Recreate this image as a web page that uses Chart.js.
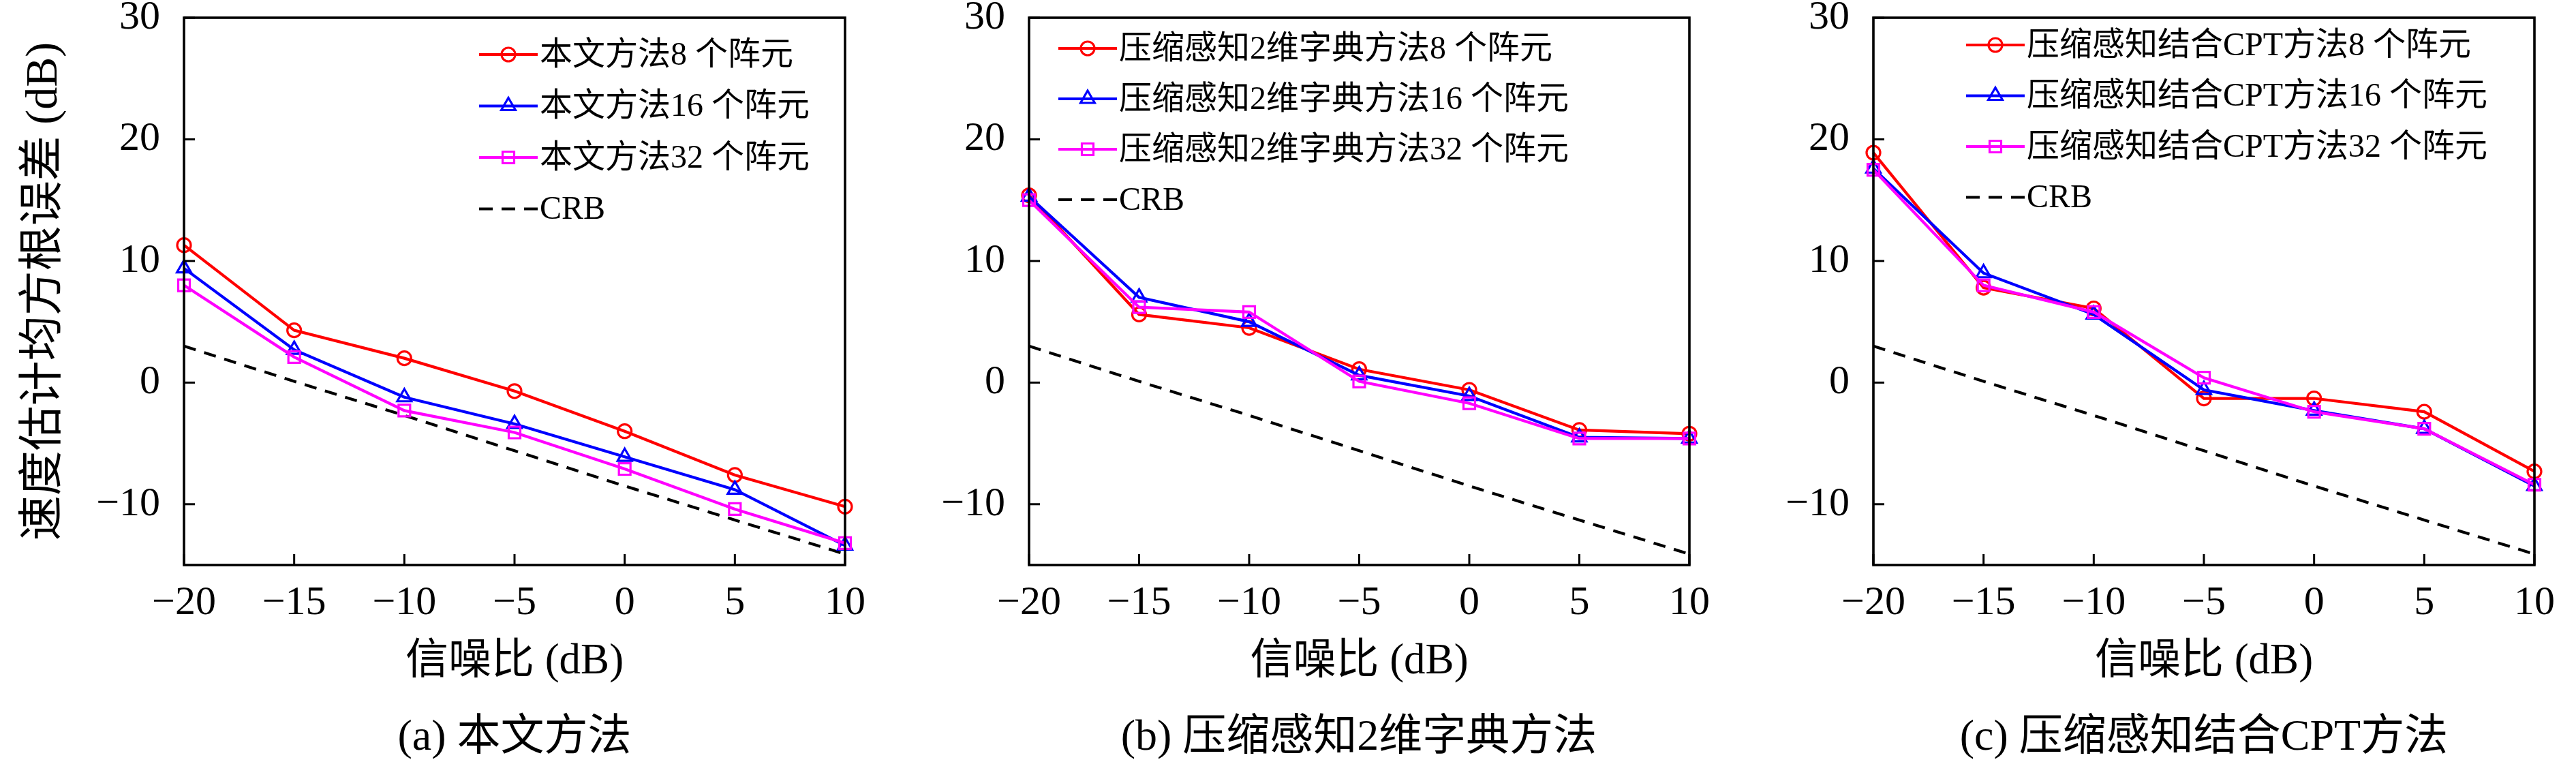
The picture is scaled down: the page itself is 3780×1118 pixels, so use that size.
<!DOCTYPE html>
<html><head><meta charset="utf-8">
<script src="https://cdn.jsdelivr.net/npm/chart.js@4.4.0/dist/chart.umd.min.js"></script>
<style>
html,body{margin:0;padding:0;background:#fff;}
#wrap{position:relative;width:3780px;height:1118px;overflow:hidden;background:#fff;}
.pc{position:absolute;top:0;height:1009px;}
.cap{position:absolute;top:1039px;width:1200px;height:80px;line-height:80px;font-size:64px;font-family:"Liberation Serif","Noto Sans CJK SC",serif;text-align:center;color:#000;white-space:nowrap;}
</style></head><body>
<div id="wrap">
  <div class="pc" style="left:0px;width:1270px"><canvas id="c0" width="1270" height="1009"></canvas></div>
  <div class="pc" style="left:1290px;width:1220px"><canvas id="c1" width="1220" height="1009"></canvas></div>
  <div class="pc" style="left:2530px;width:1250px"><canvas id="c2" width="1250" height="1009"></canvas></div>
  <div class="cap" style="left:155px">(a) 本文方法</div>
  <div class="cap" style="left:1394px">(b) 压缩感知2维字典方法</div>
  <div class="cap" style="left:2634px">(c) 压缩感知结合CPT方法</div>
</div>
<script>
// ---- data ----
const snr = [-20, -15, -10, -5, 0, 5, 10];
const xTicks = [-20, -15, -10, -5, 0, 5, 10];
const yTicks = [-10, 0, 10, 20, 30];
const crb = [3.0, 0.1, -2.7, -5.6, -8.5, -11.3, -14.1];
const a8  = [11.3, 4.3, 2.0, -0.7, -4.0, -7.6, -10.2];
const a16 = [9.4, 2.7, -1.2, -3.4, -6.1, -8.8, -13.4];
const a32 = [8.0, 2.1, -2.3, -4.1, -7.1, -10.4, -13.2];
const b8  = [15.4, 5.6, 4.5, 1.1, -0.6, -3.9, -4.2];
const b16 = [15.3, 7.0, 5.0, 0.6, -1.1, -4.5, -4.6];
const b32 = [15.0, 6.2, 5.8, 0.1, -1.7, -4.6, -4.6];
const c8  = [18.9, 7.8, 6.1, -1.3, -1.3, -2.4, -7.3];
const c16 = [17.6, 9.0, 5.6, -0.6, -2.3, -3.8, -8.5];
const c32 = [17.5, 8.0, 5.8, 0.4, -2.4, -3.8, -8.4];
const namesA = ['本文方法8 个阵元', '本文方法16 个阵元', '本文方法32 个阵元', 'CRB'];
const namesB = ['压缩感知2维字典方法8 个阵元', '压缩感知2维字典方法16 个阵元', '压缩感知2维字典方法32 个阵元', 'CRB'];
const namesC = ['压缩感知结合CPT方法8 个阵元', '压缩感知结合CPT方法16 个阵元', '压缩感知结合CPT方法32 个阵元', 'CRB'];
const xTitle = '信噪比 (dB)';
const yTitle = '速度估计均方根误差 (dB)';

const FAM = '"Liberation Serif", "Noto Sans CJK SC", serif';
const toPts = arr => arr.map((v, i) => ({x: snr[i], y: v}));
const fmt = v => (v < 0 ? '\u2212' + Math.abs(v) : String(v));

function mkDatasets(s8, s16, s32, names) {
  return [
    {label: names[0], data: toPts(s8), borderColor: '#ff0000', backgroundColor: 'rgba(0,0,0,0)',
     pointStyle: 'circle', pointRadius: 10, pointBorderWidth: 3.2, borderWidth: 4.2, order: 2, clip: false},
    {label: names[1], data: toPts(s16), borderColor: '#0000ff', backgroundColor: 'rgba(0,0,0,0)',
     pointStyle: 'triangle', pointRadius: 12, pointBorderWidth: 3.2, borderWidth: 4.2, order: 1, clip: false},
    {label: names[2], data: toPts(s32), borderColor: '#ff00ff', backgroundColor: 'rgba(0,0,0,0)',
     pointStyle: 'rect', pointRadius: 12, pointBorderWidth: 3.2, borderWidth: 4.2, order: 0, clip: false},
    {label: names[3], data: toPts(crb), borderColor: '#000000', backgroundColor: 'rgba(0,0,0,0)',
     pointRadius: 0, borderWidth: 4.2, borderDash: [18, 13], order: 3, clip: false}
  ];
}

function drawMarker(ctx, style, r, x, y) {
  ctx.beginPath();
  if (style === 'circle') {
    ctx.arc(x, y, r, 0, Math.PI * 2);
  } else if (style === 'triangle') {
    ctx.moveTo(x, y - r);
    ctx.lineTo(x + r * Math.sin(Math.PI * 2 / 3), y - r * Math.cos(Math.PI * 2 / 3));
    ctx.lineTo(x + r * Math.sin(Math.PI * 4 / 3), y - r * Math.cos(Math.PI * 4 / 3));
    ctx.closePath();
  } else if (style === 'rect') {
    const s = r * Math.SQRT1_2;
    ctx.rect(x - s, y - s, 2 * s, 2 * s);
  }
  ctx.stroke();
}

const framePlugin = {
  id: 'frameTicks',
  afterDraw(chart) {
    const {ctx, chartArea: ca, scales} = chart;
    ctx.save();
    ctx.strokeStyle = '#000';
    ctx.lineWidth = 3;
    scales.x.ticks.forEach(t => {
      const px = scales.x.getPixelForValue(t.value);
      ctx.beginPath(); ctx.moveTo(px, ca.bottom); ctx.lineTo(px, ca.bottom - 16); ctx.stroke();
    });
    scales.y.ticks.forEach(t => {
      const py = scales.y.getPixelForValue(t.value);
      ctx.beginPath(); ctx.moveTo(ca.left, py); ctx.lineTo(ca.left + 16, py); ctx.stroke();
    });
    ctx.lineWidth = 3.6;
    ctx.strokeRect(ca.left, ca.top, ca.right - ca.left, ca.bottom - ca.top);
    // legend
    const o = chart.options.plugins.inLegend;
    ctx.font = '48px ' + FAM;
    ctx.textBaseline = 'middle';
    ctx.textAlign = 'left';
    chart.data.datasets.forEach((ds, i) => {
      const x0 = ca.left + o.x, y = ca.top + o.y0 + i * o.dy, x1 = x0 + o.len;
      ctx.strokeStyle = ds.borderColor;
      ctx.lineWidth = ds.borderWidth;
      ctx.setLineDash(ds.borderDash ? [20, 13] : []);
      ctx.beginPath(); ctx.moveTo(x0, y); ctx.lineTo(x1, y); ctx.stroke();
      ctx.setLineDash([]);
      if (ds.pointRadius > 0) {
        ctx.lineWidth = ds.pointBorderWidth;
        ctx.fillStyle = '#fff';
        drawMarker(ctx, ds.pointStyle, ds.pointRadius, (x0 + x1) / 2, y);
      }
      ctx.fillStyle = '#000';
      ctx.fillText(ds.label, x1 + 3, y + 2);
    });
    ctx.restore();
  }
};

function mkChart(id, datasets, cfg) {
  return new Chart(document.getElementById(id), {
    type: 'line',
    data: {datasets},
    plugins: [framePlugin],
    options: {
      responsive: false,
      animation: false,
      events: [],
      layout: {padding: {left: cfg.padL, right: cfg.padR, top: 26, bottom: 0}},
      plugins: {legend: {display: false}, tooltip: {enabled: false}, inLegend: cfg.legend},
      scales: {
        x: {
          type: 'linear', min: -20, max: 10,
          afterBuildTicks: s => { s.ticks = xTicks.map(v => ({value: v})); },
          afterFit: s => { s.height = 180; s.paddingLeft = 0; s.paddingRight = 0; },
          grid: {display: false, drawTicks: false},
          border: {display: false},
          ticks: {padding: 20, color: '#000', font: {family: FAM, size: 60}, callback: v => fmt(v), maxRotation: 0, autoSkip: false},
          title: {display: true, text: xTitle, color: '#000', font: {family: FAM, size: 63}, padding: 0}
        },
        y: {
          type: 'linear', min: -15, max: 30,
          afterBuildTicks: s => { s.ticks = yTicks.map(v => ({value: v})); },
          afterFit: s => { s.width = cfg.yW; s.paddingTop = 0; s.paddingBottom = 0; },
          grid: {display: false, drawTicks: false},
          border: {display: false},
          ticks: {padding: 35, color: '#000', font: {family: FAM, size: 60}, callback: v => fmt(v), autoSkip: false},
          title: {display: cfg.yTitle, text: yTitle, color: '#000', font: {family: FAM, size: 66}, padding: 0}
        }
      }
    }
  });
}

mkChart('c0', mkDatasets(a8, a16, a32, namesA), {padL: 26, padR: 30, yW: 244, yTitle: true, legend: {x: 433, y0: 54, dy: 75.5, len: 86}});
mkChart('c1', mkDatasets(b8, b16, b32, namesB), {padL: 0, padR: 31, yW: 220, yTitle: false, legend: {x: 43, y0: 45, dy: 74, len: 86}});
mkChart('c2', mkDatasets(c8, c16, c32, namesC), {padL: 0, padR: 61, yW: 219, yTitle: false, legend: {x: 136, y0: 40, dy: 74.5, len: 86}});
</script>
</body></html>
